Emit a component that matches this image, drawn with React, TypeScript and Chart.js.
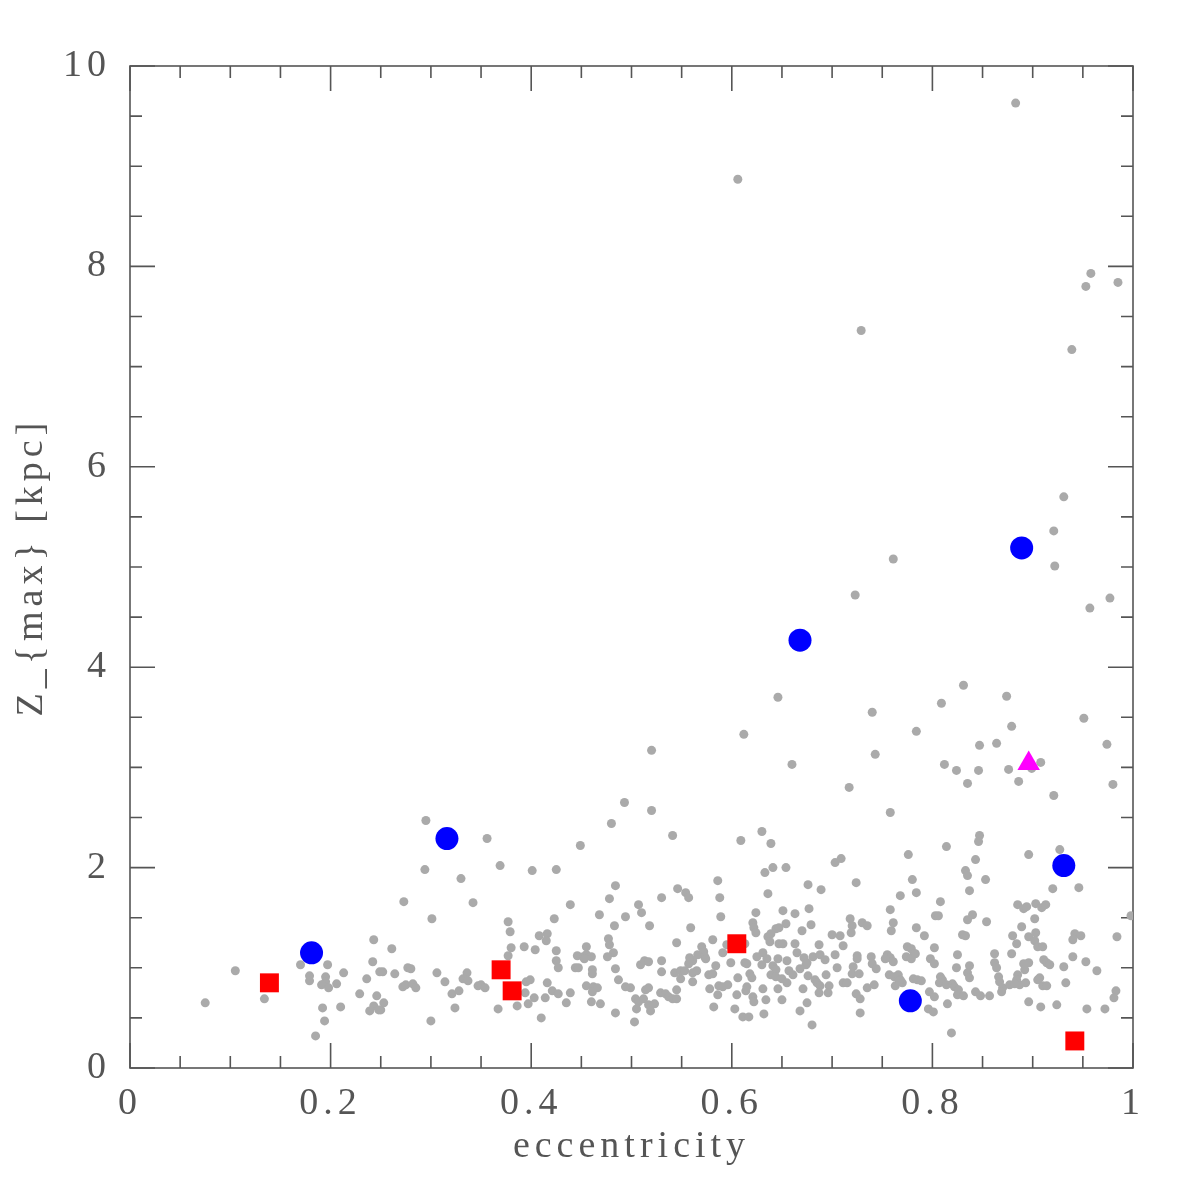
import React, { useEffect, useRef } from "react";
import { Chart, registerables } from "chart.js";

Chart.register(...registerables);

// x tick labels, y tick labels
const xTickValues = [0, 0.2, 0.4, 0.6, 0.8, 1];
const yTickValues = [0, 2, 4, 6, 8, 10];

// gray background sample: [eccentricity, Zmax]
const sampleLowE: number[][] = [
  [0.243,1.28],[0.242,1.06],[0.249,0.96],[0.197,1.03],[0.170,1.03],[0.105,0.97],[0.213,0.95],[0.179,0.92],[0.179,0.87],[0.195,0.91],
  [0.195,0.86],[0.191,0.83],[0.198,0.80],[0.206,0.84],[0.236,0.89],[0.229,0.74],[0.246,0.72],[0.243,0.62],[0.239,0.57],[0.248,0.58],
  [0.075,0.65],[0.134,0.69],[0.192,0.60],[0.210,0.61],[0.194,0.47],[0.185,0.32],
];
const sampleMidE: number[][] = [
  [0.493,2.65],[0.295,2.47],[0.356,2.29],[0.480,2.44],[0.449,2.22],[0.294,1.98],[0.330,1.89],[0.369,2.02],[0.401,1.97],[0.425,1.98],
  [0.484,1.82],[0.478,1.69],[0.439,1.63],[0.273,1.66],[0.342,1.65],[0.301,1.49],[0.377,1.46],[0.379,1.36],[0.423,1.49],[0.468,1.53],
  [0.494,1.51],[0.483,1.42],[0.408,1.32],[0.416,1.34],[0.415,1.27],[0.380,1.20],[0.393,1.21],[0.404,1.18],[0.425,1.17],[0.377,1.12],
  [0.477,1.29],[0.478,1.23],[0.455,1.21],[0.482,1.15],[0.476,1.11],[0.446,1.12],[0.452,1.11],[0.455,1.13],[0.460,1.11],[0.453,1.09],
  [0.425,1.07],[0.427,1.00],[0.444,1.00],[0.447,1.00],[0.461,0.98],[0.461,0.94],[0.484,0.99],[0.487,0.88],[0.494,0.81],[0.261,1.19],
  [0.252,0.96],[0.264,0.94],[0.277,1.00],[0.280,0.99],[0.306,0.95],[0.336,0.95],[0.332,0.89],[0.337,0.87],[0.314,0.86],[0.272,0.81],
  [0.275,0.83],[0.282,0.84],[0.285,0.80],[0.321,0.74],[0.328,0.77],[0.347,0.82],[0.350,0.83],[0.354,0.80],[0.253,0.65],[0.250,0.58],
  [0.324,0.60],[0.300,0.47],[0.367,0.59],[0.386,0.62],[0.397,0.64],[0.403,0.70],[0.394,0.75],[0.395,0.86],[0.399,0.88],[0.414,0.70],
  [0.416,0.85],[0.421,0.77],[0.427,0.74],[0.410,0.50],[0.435,0.65],[0.439,0.75],[0.455,0.82],[0.462,0.81],[0.466,0.80],[0.461,0.76],
  [0.460,0.66],[0.469,0.64],[0.484,0.55],
];
const sampleHighE: number[][] = [
  [0.520,2.57],[0.541,2.32],[0.630,2.36],[0.609,2.27],[0.639,2.24],[0.703,2.05],[0.709,2.09],[0.633,1.95],[0.641,2.00],[0.654,2.00],
  [0.586,1.87],[0.546,1.79],[0.554,1.75],[0.557,1.70],[0.530,1.70],[0.588,1.70],[0.636,1.74],[0.676,1.83],[0.689,1.78],[0.724,1.85],
  [0.507,1.63],[0.510,1.55],[0.589,1.51],[0.624,1.55],[0.651,1.57],[0.663,1.54],[0.677,1.59],[0.518,1.42],[0.559,1.40],[0.621,1.45],
  [0.622,1.40],[0.624,1.35],[0.644,1.39],[0.647,1.40],[0.654,1.44],[0.670,1.37],[0.679,1.43],[0.700,1.33],[0.708,1.32],[0.718,1.49],
  [0.720,1.42],[0.719,1.35],[0.730,1.45],[0.735,1.42],[0.711,1.22],[0.581,1.28],[0.545,1.25],[0.570,1.21],[0.572,1.16],[0.566,1.13],
  [0.561,1.07],[0.558,1.10],[0.557,1.04],[0.573,1.11],[0.574,1.09],[0.591,1.15],[0.595,1.23],[0.613,1.24],[0.636,1.31],[0.639,1.34],
  [0.638,1.26],[0.647,1.24],[0.651,1.24],[0.663,1.24],[0.687,1.23],[0.665,1.15],[0.631,1.15],[0.625,1.11],[0.635,1.09],[0.646,1.09],
  [0.655,1.07],[0.672,1.10],[0.675,1.05],[0.674,1.03],[0.681,1.11],[0.688,1.13],[0.693,1.08],[0.703,1.13],[0.725,1.12],[0.725,1.09],
  [0.739,1.11],[0.740,1.04],[0.744,0.99],[0.530,1.07],[0.509,1.03],[0.513,1.07],[0.517,1.06],[0.530,0.96],[0.543,0.95],[0.549,0.97],
  [0.553,0.97],[0.549,0.89],[0.561,0.95],[0.565,0.97],[0.561,0.86],[0.577,0.93],[0.581,0.94],[0.584,1.02],[0.599,1.05],[0.613,1.05],
  [0.615,1.04],[0.606,0.90],[0.618,0.94],[0.620,0.90],[0.630,1.03],[0.641,1.02],[0.644,0.98],[0.639,0.93],[0.644,0.91],[0.650,0.89],
  [0.655,0.85],[0.657,0.97],[0.661,0.93],[0.668,0.99],[0.676,0.92],[0.683,0.88],[0.685,0.85],[0.688,0.82],[0.694,0.93],[0.705,1.00],
  [0.697,0.82],[0.711,0.85],[0.715,0.85],[0.721,1.01],[0.720,0.94],[0.727,0.94],[0.735,0.80],[0.742,0.83],[0.724,0.74],[0.728,0.69],
  [0.728,0.55],[0.499,0.80],[0.514,0.78],[0.517,0.80],[0.504,0.69],[0.507,0.66],[0.512,0.69],[0.505,0.59],[0.517,0.63],[0.519,0.57],
  [0.523,0.64],[0.503,0.46],[0.529,0.75],[0.534,0.74],[0.537,0.71],[0.541,0.69],[0.545,0.69],[0.545,0.78],[0.578,0.79],[0.587,0.82],
  [0.591,0.81],[0.596,0.83],[0.586,0.73],[0.582,0.61],[0.605,0.73],[0.603,0.59],[0.614,0.77],[0.615,0.81],[0.611,0.51],[0.617,0.51],
  [0.621,0.71],[0.622,0.66],[0.631,0.79],[0.634,0.68],[0.632,0.54],[0.646,0.79],[0.650,0.68],[0.671,0.79],[0.675,0.65],[0.668,0.57],
  [0.680,0.43],[0.687,0.75],[0.696,0.75],
];
const sampleVeryHighE: number[][] = [
  [0.758,2.55],[0.847,2.32],[0.846,2.26],[0.814,2.21],[0.776,2.13],[0.896,2.13],[0.927,2.18],[0.843,2.08],[0.833,1.97],[0.835,1.92],
  [0.780,1.88],[0.853,1.88],[0.920,1.79],[0.946,1.80],[0.784,1.75],[0.837,1.77],[0.768,1.72],[0.808,1.66],[0.758,1.58],[0.885,1.63],
  [0.891,1.59],[0.894,1.61],[0.903,1.64],[0.909,1.60],[0.913,1.63],[0.803,1.52],[0.806,1.52],[0.840,1.53],[0.835,1.48],[0.854,1.46],
  [0.902,1.49],[0.761,1.45],[0.759,1.37],[0.784,1.40],[0.792,1.32],[0.830,1.33],[0.833,1.32],[0.889,1.41],[0.880,1.32],[0.896,1.31],
  [0.903,1.35],[0.884,1.24],[0.902,1.27],[0.905,1.21],[0.910,1.21],[0.942,1.34],[0.948,1.32],[0.940,1.28],[0.984,1.31],[0.998,1.52],
  [0.775,1.21],[0.779,1.19],[0.782,1.14],[0.774,1.11],[0.779,1.09],[0.783,1.14],[0.755,1.13],[0.758,1.10],[0.761,1.06],[0.753,1.09],
  [0.802,1.20],[0.798,1.09],[0.802,1.04],[0.825,1.13],[0.824,1.00],[0.837,1.02],[0.835,0.95],[0.837,0.90],[0.862,1.14],[0.879,1.14],
  [0.862,1.05],[0.864,1.00],[0.866,0.91],[0.867,0.86],[0.870,0.80],[0.869,0.76],[0.891,1.04],[0.896,1.05],[0.892,0.98],[0.885,0.93],
  [0.884,0.88],[0.887,0.83],[0.893,0.85],[0.877,0.83],[0.882,0.84],[0.911,1.08],[0.914,1.05],[0.917,1.03],[0.907,0.90],[0.905,0.88],
  [0.910,0.82],[0.914,0.82],[0.931,1.01],[0.940,1.11],[0.953,1.06],[0.933,0.85],[0.964,0.97],[0.983,0.77],[0.981,0.70],[0.757,0.93],
  [0.762,0.91],[0.766,0.93],[0.768,0.88],[0.770,0.85],[0.763,0.82],[0.767,0.87],[0.781,0.89],[0.785,0.88],[0.789,0.87],[0.808,0.91],
  [0.810,0.88],[0.807,0.85],[0.814,0.83],[0.820,0.84],[0.822,0.81],[0.826,0.78],[0.797,0.76],[0.802,0.71],[0.796,0.59],[0.801,0.56],
  [0.825,0.73],[0.831,0.72],[0.843,0.76],[0.848,0.72],[0.857,0.72],[0.815,0.64],[0.819,0.35],[0.896,0.66],[0.908,0.61],[0.924,0.63],
  [0.954,0.59],[0.972,0.59],
];
const sampleUpper: number[][] = [
  [0.931,5.70],[0.921,5.36],[0.922,5.01],[0.761,5.08],[0.723,4.72],[0.957,4.59],[0.977,4.69],[0.831,3.82],[0.646,3.70],[0.874,3.71],
  [0.809,3.64],[0.740,3.55],[0.951,3.49],[0.784,3.36],[0.612,3.33],[0.879,3.41],[0.520,3.17],[0.847,3.22],[0.864,3.24],[0.974,3.23],
  [0.743,3.13],[0.660,3.03],[0.812,3.03],[0.824,2.97],[0.846,2.97],[0.876,2.98],[0.908,3.05],[0.899,2.99],[0.835,2.84],[0.886,2.86],
  [0.717,2.80],[0.980,2.83],[0.921,2.72],
  [0.883,9.63],[0.606,8.87],[0.958,7.93],[0.953,7.80],[0.985,7.84],[0.729,7.36],[0.939,7.17],
];

// highlighted objects
const blueCircles: number[][] = [[0.181,1.15],[0.316,2.29],[0.668,4.27],[0.889,5.19],[0.931,2.02],[0.778,0.67]];
const redSquares: number[][] = [[0.139,0.85],[0.370,0.98],[0.381,0.77],[0.605,1.24],[0.942,0.27]];
const magentaTriangles: number[][] = [[0.896,3.04]];

const toXY = (arr: number[][]) => arr.map(([x, y]) => ({ x, y }));

const FONT = "'Liberation Serif', 'DejaVu Serif', serif";
const TEXT_COLOR = "#555555";
const FRAME_COLOR = "#555555";

const framePlugin = {
  id: "frameTicks",
  beforeDraw(chart: any) {
    chart.ctx.letterSpacing = "5px";
  },
  beforeDatasetsDraw(chart: any) {
    const { ctx, chartArea, scales } = chart;
    const { left, right, top, bottom } = chartArea;
    const xs = scales.x;
    const ys = scales.y;
    ctx.save();
    ctx.strokeStyle = FRAME_COLOR;
    ctx.lineWidth = 1.6;
    ctx.strokeRect(left, top, right - left, bottom - top);
    ctx.beginPath();
    for (let i = 0; i <= 20; i++) {
      const v = i * 0.05;
      const px = xs.getPixelForValue(v);
      const len = i % 4 === 0 ? 25 : 12;
      ctx.moveTo(px, bottom);
      ctx.lineTo(px, bottom - len);
      ctx.moveTo(px, top);
      ctx.lineTo(px, top + len);
    }
    for (let i = 0; i <= 20; i++) {
      const v = i * 0.5;
      const py = ys.getPixelForValue(v);
      const len = i % 4 === 0 ? 25 : 12;
      ctx.moveTo(left, py);
      ctx.lineTo(left + len, py);
      ctx.moveTo(right, py);
      ctx.lineTo(right - len, py);
    }
    ctx.stroke();
    ctx.restore();
  },
};

export default function App() {
  const ref = useRef<HTMLCanvasElement | null>(null);
  useEffect(() => {
    if (!ref.current) return;
    const grayStyle = {
      type: "scatter" as const,
      backgroundColor: "#aaaaaa",
      borderWidth: 0,
      pointRadius: 4.5,
      pointStyle: "circle",
      order: 10,
    };
    const chart = new Chart(ref.current, {
      type: "scatter",
      data: {
        datasets: [
          { ...grayStyle, label: "sample low", data: toXY(sampleLowE) },
          { ...grayStyle, label: "sample mid", data: toXY(sampleMidE) },
          { ...grayStyle, label: "sample high", data: toXY(sampleHighE) },
          { ...grayStyle, label: "sample very high", data: toXY(sampleVeryHighE) },
          { ...grayStyle, label: "sample upper", data: toXY(sampleUpper) },
          { type: "scatter", label: "blue", order: 3, data: toXY(blueCircles), backgroundColor: "#0000ff", borderWidth: 0, pointRadius: 11.5, pointStyle: "circle" },
          { type: "scatter", label: "red", order: 2, data: toXY(redSquares), backgroundColor: "#ff0000", borderWidth: 0, pointRadius: 13.4, pointStyle: "rect" },
          { type: "scatter", label: "magenta", order: 1, data: toXY(magentaTriangles), backgroundColor: "#ff00ff", borderWidth: 0, pointRadius: 13, pointStyle: "triangle" },
        ],
      },
      options: {
        responsive: false,
        animation: false,
        events: [],
        layout: { padding: { top: 66, right: 63, left: 0, bottom: 0 } },
        plugins: { legend: { display: false }, tooltip: { enabled: false } },
        scales: {
          x: {
            type: "linear",
            min: 0,
            max: 1,
            afterBuildTicks: (s: any) => { s.ticks = xTickValues.map((v) => ({ value: v })); },
            afterFit: (s: any) => { s.height = 128; },
            grid: { display: false, drawTicks: false },
            border: { display: false },
            ticks: {
              padding: 13,
              color: TEXT_COLOR,
              font: { family: FONT, size: 38 },
              maxRotation: 0,
              autoSkip: false,
              callback: (v: any) => String(+Number(v).toFixed(1)),
            },
            title: {
              display: true,
              text: "eccentricity",
              color: TEXT_COLOR,
              font: { family: FONT, size: 38 },
              padding: { top: 0, bottom: 26 },
            },
          },
          y: {
            type: "linear",
            min: 0,
            max: 10,
            afterBuildTicks: (s: any) => { s.ticks = yTickValues.map((v) => ({ value: v })); },
            afterFit: (s: any) => { s.width = 130; },
            grid: { display: false, drawTicks: false },
            border: { display: false },
            ticks: {
              padding: 19,
              color: TEXT_COLOR,
              font: { family: FONT, size: 38 },
              autoSkip: false,
              callback: (v: any) => String(v),
            },
            title: {
              display: true,
              text: "Z_{max} [kpc]",
              color: TEXT_COLOR,
              font: { family: FONT, size: 38 },
              padding: { top: 9, bottom: 0 },
            },
          },
        },
      },
      plugins: [framePlugin],
    } as any);
    return () => chart.destroy();
  }, []);
  return (
    <div style={{ position: "absolute", left: 0, top: 0, width: 1196, height: 1196, background: "#ffffff" }}>
      <canvas ref={ref} width={1196} height={1196} style={{ display: "block" }} />
    </div>
  );
}
